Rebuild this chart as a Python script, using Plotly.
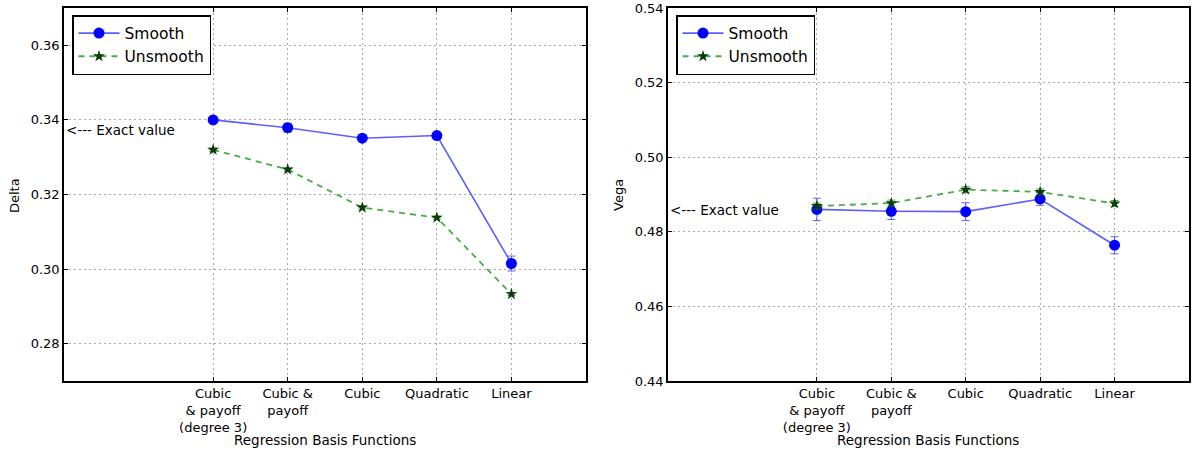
import plotly.graph_objects as go

categories = ["Cubic<br>& payoff<br>(degree 3)", "Cubic &<br>payoff", "Cubic", "Quadratic", "Linear"]

delta_smooth = [0.3400, 0.3379, 0.3351, 0.3358, 0.3015]
delta_smooth_err = [0.0008, 0.0012, 0.0008, 0.0008, 0.0020]
delta_unsmooth = [0.3320, 0.3267, 0.3165, 0.3138, 0.2933]
delta_unsmooth_err = [0.0004, 0.0004, 0.0004, 0.0004, 0.0004]
delta_exact = 0.3373

vega_smooth = [0.4860, 0.4855, 0.4854, 0.4888, 0.4764]
vega_smooth_err = [0.0030, 0.0022, 0.0024, 0.0017, 0.0023]
vega_unsmooth = [0.4869, 0.4877, 0.4913, 0.4907, 0.4876]
vega_unsmooth_err = [0.0008, 0.0008, 0.0008, 0.0008, 0.0008]
vega_exact = 0.4858

FONT = "DejaVu Sans"
fig = go.Figure()

def add_pair(xa, ya, s, se, u, ue, legend):
    fig.add_trace(go.Scatter(
        x=categories, y=s, name="Smooth", xaxis=xa, yaxis=ya, legend=legend,
        mode="lines+markers",
        line=dict(color="rgba(40,40,255,0.75)", width=1.6),
        marker=dict(color="#0000ff", size=11, symbol="circle"),
        error_y=dict(type="data", array=se, color="rgba(60,60,255,0.8)", thickness=1, width=4),
    ))
    fig.add_trace(go.Scatter(
        x=categories, y=u, name="Unsmooth", xaxis=xa, yaxis=ya, legend=legend,
        mode="lines+markers",
        line=dict(color="rgba(30,150,30,0.8)", width=1.8, dash="6px,5px"),
        marker=dict(color="#0b3a0b", size=9, symbol="star"),
        error_y=dict(type="data", array=ue, color="rgba(30,150,30,0.8)", thickness=1, width=4),
    ))

add_pair("x", "y", delta_smooth, delta_smooth_err, delta_unsmooth, delta_unsmooth_err, "legend")
add_pair("x2", "y2", vega_smooth, vega_smooth_err, vega_unsmooth, vega_unsmooth_err, "legend2")

ydom = [1 - 381 / 452, 1 - 8 / 452]
axis_common = dict(
    showline=True, linecolor="black", linewidth=1.6, mirror="ticks",
    ticks="inside", ticklen=4, tickcolor="black", automargin=False,
    showgrid=True, gridcolor="#a8a8a8", griddash="2px,3px", gridwidth=1,
    zeroline=False, tickfont=dict(family=FONT, size=13, color="black"),
)
leg_common = dict(xanchor="left", yanchor="top", bordercolor="black", borderwidth=1.5,
                  bgcolor="white", font=dict(family=FONT, size=15.5, color="black"),
                  tracegroupgap=0, itemwidth=41)
fig.update_layout(
    width=1192, height=452,
    margin=dict(l=0, r=0, t=0, b=0, autoexpand=False),
    paper_bgcolor="white", plot_bgcolor="white",
    font=dict(family=FONT, color="black"),
    xaxis=dict(domain=[64 / 1192, 586 / 1192], type="category", categoryorder="array",
               categoryarray=categories, range=[-2, 5], anchor="y", **axis_common),
    yaxis=dict(domain=ydom, range=[0.27, 0.37], tickvals=[0.28, 0.30, 0.32, 0.34, 0.36],
               tickformat=".2f", anchor="x", **axis_common),
    xaxis2=dict(domain=[668 / 1192, 1189 / 1192], type="category", categoryorder="array",
                categoryarray=categories, range=[-2, 5], anchor="y2", **axis_common),
    yaxis2=dict(domain=ydom, range=[0.44, 0.54], tickvals=[0.44, 0.46, 0.48, 0.50, 0.52, 0.54],
                tickformat=".2f", anchor="x2", **axis_common),
    legend=dict(x=72 / 1192, y=1 - 15 / 452, **leg_common),
    legend2=dict(x=676 / 1192, y=1 - 15 / 452, **leg_common),
    annotations=[
        dict(text="Delta", xref="paper", yref="paper", x=15 / 1192, y=1 - 195 / 452,
             xanchor="center", yanchor="middle",
             textangle=-90, showarrow=False, font=dict(family=FONT, size=13)),
        dict(text="Vega", xref="paper", yref="paper", x=619 / 1192, y=1 - 195 / 452,
             xanchor="center", yanchor="middle",
             textangle=-90, showarrow=False, font=dict(family=FONT, size=13)),
        dict(text="Regression Basis Functions", xref="paper", yref="paper", x=325 / 1192,
             y=1 - 440 / 452, xanchor="center", yanchor="middle",
             showarrow=False, font=dict(family=FONT, size=13.5)),
        dict(text="Regression Basis Functions", xref="paper", yref="paper", x=928 / 1192,
             y=1 - 440 / 452, xanchor="center", yanchor="middle",
             showarrow=False, font=dict(family=FONT, size=13.5)),
        dict(text="<--- Exact value", xref="x domain", yref="y", x=0, y=delta_exact,
             xanchor="left", yanchor="middle", showarrow=False, font=dict(family=FONT, size=13.5)),
        dict(text="<--- Exact value", xref="x2 domain", yref="y2", x=0, y=vega_exact,
             xanchor="left", yanchor="middle", showarrow=False, font=dict(family=FONT, size=13.5)),
    ],
)

fig.write_html("out.html")
